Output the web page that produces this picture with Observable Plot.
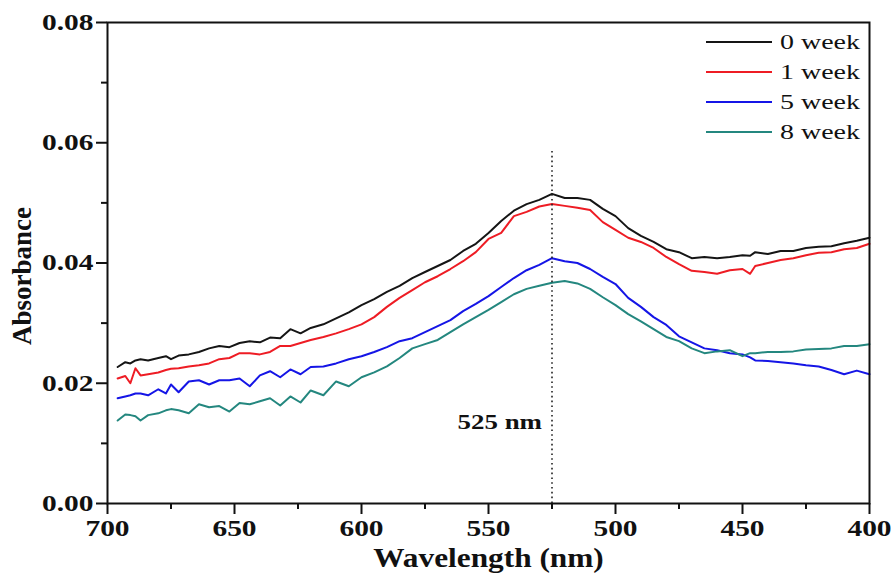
<!DOCTYPE html>
<html>
<head>
<meta charset="utf-8">
<script src="https://cdn.jsdelivr.net/npm/d3@7"></script>
<script src="https://cdn.jsdelivr.net/npm/@observablehq/plot@0.6"></script>
<style>
  body { margin: 0; background: #fff; }
  #wrap { position: relative; width: 892px; height: 573px; overflow: hidden; }
  #legend { position: absolute; left: 706px; top: 27px; font-family: "Liberation Serif", "Times New Roman", serif; font-size: 22px; color: #111; }
  #legend .row { height: 30px; display: flex; align-items: center; white-space: nowrap; }
  #legend .sw { display: inline-block; width: 66px; height: 0; border-top: 2px solid; margin-right: 8px; }
  #legend .lbl { display: inline-block; transform: scaleX(1.27); transform-origin: left center; }
</style>
</head>
<body>
<div id="wrap"></div>
<script>
const wavelengths = [696, 693, 691, 689, 687, 684, 680, 677, 675, 672, 668, 664, 660, 656, 652, 648, 644, 640, 636, 632, 628, 624, 620, 615, 610, 605, 600, 595, 590, 585, 580, 575, 570, 565, 560, 555, 550, 545, 540, 535, 530, 525, 520, 515, 510, 505, 500, 495, 490, 485, 480, 475, 470, 465, 460, 455, 450, 447, 445, 440, 435, 430, 425, 420, 415, 410, 405, 400];

const week0 = [.0227, .0235, .0233, .0238, .0240, .0238, .0242, .0245, .0240, .0246, .0248, .0252, .0258, .0262, .0260, .0267, .0270, .0268, .0276, .0275, .0290, .0283, .0292, .0298, .0308, .0318, .0330, .0340, .0352, .0362, .0375, .0385, .0395, .0405, .0420, .0432, .0450, .0470, .0487, .0498, .0505, .0515, .0508, .0508, .0505, .0490, .0478, .0458, .0445, .0435, .0423, .0418, .0408, .0410, .0408, .0410, .0413, .0412, .0418, .0415, .0420, .0420, .0425, .0427, .0428, .0433, .0437, .0442];

const week1 = [.0208, .0212, .0200, .0225, .0213, .0215, .0218, .0222, .0224, .0225, .0228, .0230, .0233, .0240, .0242, .0250, .0250, .0248, .0252, .0262, .0262, .0267, .0272, .0277, .0283, .0290, .0298, .0310, .0327, .0342, .0355, .0368, .0378, .0390, .0403, .0418, .0440, .0450, .0478, .0485, .0494, .0498, .0495, .0492, .0488, .0468, .0455, .0442, .0435, .0425, .0410, .0398, .0387, .0385, .0382, .0388, .0390, .0382, .0395, .0400, .0405, .0408, .0413, .0417, .0418, .0423, .0425, .0432];

const week5 = [.0175, .0178, .0180, .0183, .0183, .0180, .0190, .0183, .0198, .0185, .0203, .0205, .0198, .0205, .0205, .0208, .0195, .0213, .0220, .0210, .0223, .0215, .0227, .0228, .0233, .0240, .0245, .0252, .0260, .0270, .0275, .0285, .0295, .0305, .0320, .0332, .0345, .0360, .0375, .0388, .0397, .0408, .0403, .0400, .0390, .0377, .0365, .0342, .0327, .0310, .0297, .0278, .0268, .0258, .0255, .0250, .0248, .0243, .0238, .0237, .0235, .0233, .0230, .0228, .0222, .0215, .0221, .0215];

const week8 = [.0138, .0148, .0147, .0145, .0138, .0147, .0150, .0155, .0157, .0155, .0150, .0165, .0160, .0162, .0153, .0167, .0165, .0170, .0175, .0163, .0178, .0168, .0188, .0180, .0203, .0195, .0210, .0218, .0228, .0242, .0258, .0265, .0272, .0285, .0298, .0310, .0322, .0335, .0348, .0357, .0362, .0367, .0370, .0366, .0357, .0343, .0330, .0315, .0303, .0290, .0277, .0270, .0258, .0250, .0253, .0255, .0245, .0250, .0250, .0252, .0252, .0253, .0256, .0257, .0258, .0262, .0262, .0265];

const seriesNames = ["0 week", "1 week", "5 week", "8 week"];
const seriesColors = ["#151515", "#ee1c24", "#1515e6", "#24877f"];
const seriesValues = [week0, week1, week5, week8];

const xMajorTicks = [700, 650, 600, 550, 500, 450, 400];
const xMinorTicks = [675, 625, 575, 525, 475, 425];
const yMajorTicks = [0, 0.02, 0.04, 0.06, 0.08];
const yMinorTicks = [0.01, 0.03, 0.05, 0.07];

const peakLine = [525];
const peakLineTop = 0.059;
const peakLabel = [{x: 525, y: 0.0135, text: "525 nm"}];

const xTitle = "Wavelength (nm)";
const yTitle = "Absorbance";

const rows = [];
seriesNames.forEach((name, i) => {
  wavelengths.forEach((w, j) => rows.push({series: name, wavelength: w, absorbance: seriesValues[i][j]}));
});

const font = "'Liberation Serif', 'Times New Roman', serif";

const plot = Plot.plot({
  width: 892,
  height: 573,
  marginLeft: 107,
  marginRight: 23,
  marginTop: 22,
  marginBottom: 70,
  style: {fontFamily: font, background: "#fff", color: "#111"},
  x: {domain: [700, 400]},
  y: {domain: [0, 0.08]},
  color: {domain: seriesNames, range: seriesColors},
  marks: [
    Plot.line(rows, {x: "wavelength", y: "absorbance", z: "series", stroke: "series", strokeWidth: 2}),
    Plot.ruleX(peakLine, {y1: 0, y2: peakLineTop, stroke: "#222", strokeWidth: 1.6, strokeDasharray: "1.6,3.2"}),
    Plot.text(peakLabel, {x: "x", y: "y", text: "text", textAnchor: "end", dx: -10, fontSize: 21, fontWeight: "bold", fill: "#111"}),
    Plot.axisY({ticks: yMajorTicks, tickSize: 11, tickPadding: 3, tickFormat: d3.format(".2f"), fontSize: 23, fontWeight: "bold", strokeWidth: 2, label: null}),
    Plot.axisY({ticks: yMinorTicks, tickSize: 6, tickFormat: () => "", strokeWidth: 2, label: null}),
    Plot.axisX({ticks: xMajorTicks, tickSize: 11, tickPadding: 5, tickFormat: d3.format("d"), fontSize: 23, fontWeight: "bold", strokeWidth: 2, label: null}),
    Plot.axisX({ticks: xMinorTicks, tickSize: 6, tickFormat: () => "", strokeWidth: 2, label: null}),
    Plot.frame({stroke: "#111", strokeWidth: 2}),
    Plot.text([xTitle], {frameAnchor: "bottom", textAnchor: "middle", dy: 55, lineAnchor: "middle", fontSize: 27, fontWeight: "bold", fill: "#111"}),
    Plot.text([yTitle], {frameAnchor: "left", textAnchor: "middle", dx: -85, dy: 13, rotate: -90, lineAnchor: "middle", fontSize: 27, fontWeight: "bold", fill: "#111"})
  ]
});

const wrap = document.getElementById("wrap");
wrap.appendChild(plot);

// The reference's lettering is horizontally stretched; widen non-rotated texts.
plot.querySelectorAll("text").forEach(t => {
  const tr = (t.getAttribute("transform") || "") + (t.parentNode.getAttribute && t.parentNode.getAttribute("transform") || "");
  if (tr.includes("rotate")) return;
  if (!t.textContent) return;
  const len = t.getComputedTextLength();
  if (!(len > 0)) return;
  const stretch = t.textContent === xTitle ? 1.16 : 1.28;
  t.setAttribute("textLength", (len * stretch).toFixed(2));
  t.setAttribute("lengthAdjust", "spacingAndGlyphs");
});

const legend = document.createElement("div");
legend.id = "legend";
seriesNames.forEach((name, i) => {
  const row = document.createElement("div");
  row.className = "row";
  const sw = document.createElement("span");
  sw.className = "sw";
  sw.style.borderTopColor = seriesColors[i];
  const t = document.createElement("span");
  t.className = "lbl";
  t.textContent = name;
  row.appendChild(sw);
  row.appendChild(t);
  legend.appendChild(row);
});
wrap.appendChild(legend);
</script>
</body>
</html>
